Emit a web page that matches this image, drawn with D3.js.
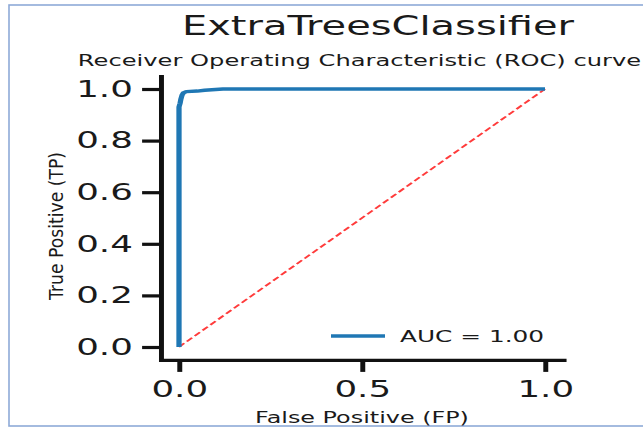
<!DOCTYPE html>
<html>
<head>
<meta charset="utf-8">
<script src="https://cdn.jsdelivr.net/npm/d3@7"></script>
<style>
  body { margin: 0; background: #fff; }
  svg { display: block; }
  text { font-family: "DejaVu Sans", sans-serif; fill: #1a1a1a; }
</style>
</head>
<body>
<div id="chart"></div>
<script>
// ROC curve points
const fpr = [0, 0, 0.003, 0.005, 0.008, 0.012, 0.02, 0.05, 0.07, 0.12, 1];
const tpr = [0, 0.93, 0.945, 0.96, 0.975, 0.985, 0.99, 0.992, 0.995, 1, 1];
// chance line
const diagX = [0, 1];
const diagY = [0, 1];

const xTicks = [0, 0.5, 1];
const yTicks = [0, 0.2, 0.4, 0.6, 0.8, 1];

const titleText = "ExtraTreesClassifier";
const subtitleText = "Receiver Operating Characteristic (ROC) curve";
const xLabel = "False Positive (FP)";
const yLabel = "True Positive (TP)";
const legendText = "AUC = 1.00";

const W = 643, H = 428;
// the source picture is squeezed horizontally, so draw in a stretched group
const SX = 1.55;

const svg = d3.select("#chart").append("svg")
    .attr("width", W)
    .attr("height", H);

svg.append("rect")
    .attr("width", W).attr("height", H)
    .attr("fill", "#fff");

// frame around the screenshot
svg.append("rect")
    .attr("x", 9).attr("y", 5)
    .attr("width", 700).attr("height", 421)
    .attr("fill", "none")
    .attr("stroke", "#8eaad8")
    .attr("stroke-width", 1.6);

const g = svg.append("g").attr("transform", `scale(${SX},1)`);

const x = d3.scaleLinear().domain([-0.05, 1.05]).range([160.7 / SX, 563.3 / SX]);
const y = d3.scaleLinear().domain([-0.05, 1.05]).range([359.9, 76.1]);

// titles
g.append("text")
    .attr("x", 378 / SX).attr("y", 35)
    .attr("text-anchor", "middle")
    .style("font-size", "25.8px")
    .text(titleText);

g.append("text")
    .attr("x", 359.5 / SX).attr("y", 66)
    .attr("text-anchor", "middle")
    .style("font-size", "15.6px")
    .text(subtitleText);

// lines
const line = d3.line().x(d => x(d[0])).y(d => y(d[1]));

g.append("path")
    .datum(diagX.map((v, i) => [v, diagY[i]]))
    .attr("d", line)
    .attr("fill", "none")
    .attr("stroke", "#ff3b3b")
    .attr("stroke-width", 1.6)
    .attr("stroke-dasharray", "5,2.5");

g.append("path")
    .datum(fpr.map((v, i) => [v, tpr[i]]))
    .attr("d", line)
    .attr("fill", "none")
    .attr("stroke", "#1f77b4")
    .attr("stroke-width", 3.4)
    .attr("stroke-linejoin", "round");

// axes
const yAxis = g.append("g")
    .attr("transform", `translate(${x(-0.05)},0)`)
    .call(d3.axisLeft(y).tickValues(yTicks).tickFormat(d3.format(".1f"))
        .tickSize(12).tickSizeOuter(0).tickPadding(6));

const xAxis = g.append("g")
    .attr("transform", `translate(0,${y(-0.05)})`)
    .call(d3.axisBottom(x).tickValues(xTicks).tickFormat(d3.format(".1f"))
        .tickSize(12).tickSizeOuter(0).tickPadding(9));

[xAxis, yAxis].forEach(a => {
    a.select(".domain").attr("stroke", "#111").attr("stroke-width", 3.2)
        .attr("stroke-linecap", "square");
    a.selectAll(".tick line").attr("stroke", "#111").attr("stroke-width", 3.2);
    a.selectAll(".tick text")
        .style("font-family", "DejaVu Sans, sans-serif")
        .style("font-size", "23px")
        .attr("fill", "#1a1a1a");
});

// axis labels
g.append("text")
    .attr("x", x(0.5)).attr("y", 423)
    .attr("text-anchor", "middle")
    .style("font-size", "15.4px")
    .text(xLabel);

g.append("text")
    .attr("transform", `translate(${63 / SX},226) rotate(-90)`)
    .attr("text-anchor", "middle")
    .attr("textLength", 148)
    .attr("lengthAdjust", "spacingAndGlyphs")
    .style("font-size", "12.4px")
    .text(yLabel);

// legend
const lg = g.append("g");
lg.append("line")
    .attr("x1", 331 / SX).attr("x2", 385 / SX)
    .attr("y1", 336).attr("y2", 336)
    .attr("stroke", "#1f77b4")
    .attr("stroke-width", 3.4);
lg.append("text")
    .attr("x", 400 / SX).attr("y", 342)
    .style("font-size", "16px")
    .text(legendText);
</script>
</body>
</html>
